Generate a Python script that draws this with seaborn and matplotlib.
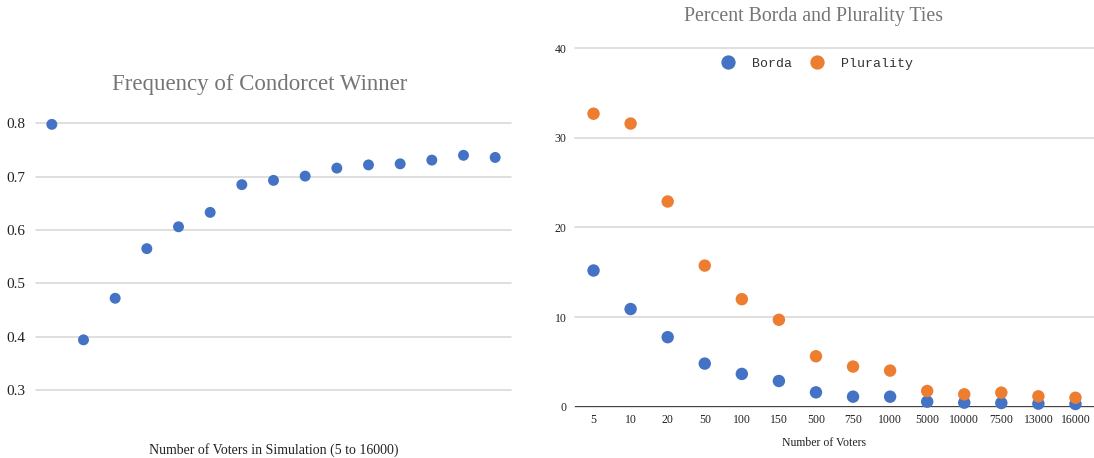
import matplotlib
matplotlib.use("Agg")
import matplotlib.pyplot as plt
import seaborn as sns
import pandas as pd

# Condorcet winner frequency, one value per simulation size (5 to 16000 voters)
condorcet_runs = [str(i) for i in range(1, 16)]
condorcet_freq = [0.798, 0.394, 0.472, 0.565, 0.606, 0.633, 0.685, 0.693,
                  0.701, 0.716, 0.722, 0.724, 0.731, 0.740, 0.736]

# Tie percentages by number of voters
voter_labels = ["5", "10", "20", "50", "100", "150", "500", "750", "1000",
                "5000", "10000", "7500", "13000", "16000"]
borda_ties = [15.2, 10.9, 7.76, 4.81, 3.66, 2.87, 1.6, 1.12, 1.12,
              0.56, 0.45, 0.41, 0.34, 0.3]
plurality_ties = [32.7, 31.6, 22.9, 15.75, 12.0, 9.7, 5.63, 4.48, 4.03,
                  1.75, 1.38, 1.57, 1.16, 1.0]

BLUE = "#4472C4"
ORANGE = "#ED7D31"
GRID = "#d9d9d9"
SERIF = "Liberation Serif"
MONO = "Liberation Mono"

sns.set_theme(style="white")
plt.rcParams["font.family"] = [SERIF, "DejaVu Serif"]

W, H = 1094, 458
fig = plt.figure(figsize=(W / 100, H / 100), dpi=100)


def box(l, r, top, bottom):
    return [l / W, 1 - bottom / H, (r - l) / W, (bottom - top) / H]


# ---- left panel ----
ax1 = fig.add_axes(box(36, 511, 123.3, 390))
df1 = pd.DataFrame({"run": condorcet_runs, "freq": condorcet_freq})
sns.scatterplot(data=df1, x="run", y="freq", ax=ax1, color=BLUE, s=62,
                edgecolor="none", clip_on=False, zorder=3)
ax1.set_xlim(-0.5, len(condorcet_runs) - 0.5)
ax1.set_ylim(0.3, 0.8)
ax1.set_yticks([0.3, 0.4, 0.5, 0.6, 0.7, 0.8])
ax1.set_yticklabels(["0.3", "0.4", "0.5", "0.6", "0.7", "0.8"])
ax1.set_xticks([])
ax1.grid(axis="y", color=GRID, linewidth=1.2)
for ln in ax1.get_ygridlines():
    ln.set_clip_on(False)
for sp in ax1.spines.values():
    sp.set_visible(False)
ax1.tick_params(axis="y", length=0, pad=8, labelsize=11, labelcolor="#222222")
ax1.set_xlabel("")
ax1.set_ylabel("")
fig.text(273.5 / W, 1 - 450 / H, "Number of Voters in Simulation (5 to 16000)",
         ha="center", va="center", fontsize=10, color="#222222")
fig.text(259.5 / W, 1 - 85 / H, "Frequency of Condorcet Winner",
         ha="center", va="center", fontsize=16.5, color="#757575")

# ---- right panel ----
ax2 = fig.add_axes(box(575, 1094, 48.3, 406.7))
df2 = pd.DataFrame({
    "voters": voter_labels * 2,
    "ties": borda_ties + plurality_ties,
    "method": ["Borda"] * len(voter_labels) + ["Plurality"] * len(voter_labels),
})
sns.scatterplot(data=df2, x="voters", y="ties", hue="method",
                palette={"Borda": BLUE, "Plurality": ORANGE}, s=80,
                edgecolor="none", clip_on=False, zorder=3, ax=ax2)
ax2.set_xlim(-0.5, len(voter_labels) - 0.5)
ax2.set_ylim(0, 40)
ax2.set_yticks([0, 10, 20, 30, 40])
ax2.grid(axis="y", color=GRID, linewidth=1.2)
for ln in ax2.get_ygridlines():
    ln.set_clip_on(False)
for sp in ax2.spines.values():
    sp.set_visible(False)
ax2.axhline(0, color="#333333", linewidth=1.3, zorder=2)
ax2.tick_params(axis="y", length=0, pad=6, labelsize=8.5, labelcolor="#222222")
ax2.tick_params(axis="x", length=0, pad=5, labelsize=8.5, labelcolor="#222222")
ax2.set_xlabel("")
ax2.set_ylabel("")
fig.text(824 / W, 1 - 443 / H, "Number of Voters", ha="center", va="center",
         fontsize=8.5, color="#222222")
fig.text(814 / W, 1 - 17 / H, "Percent Borda and Plurality Ties",
         ha="center", va="center", fontsize=14.3, color="#757575")
leg = ax2.legend(loc="center", bbox_to_anchor=((814 - 575) / 519, (406.7 - 64) / 358.4),
                 ncol=2, frameon=False, prop={"family": MONO, "size": 9.5},
                 markerscale=1.15, handletextpad=0.8, columnspacing=0.9,
                 borderaxespad=0, borderpad=0)
for t in leg.get_texts():
    t.set_color("#333333")

fig.savefig("out.png", dpi=100)
